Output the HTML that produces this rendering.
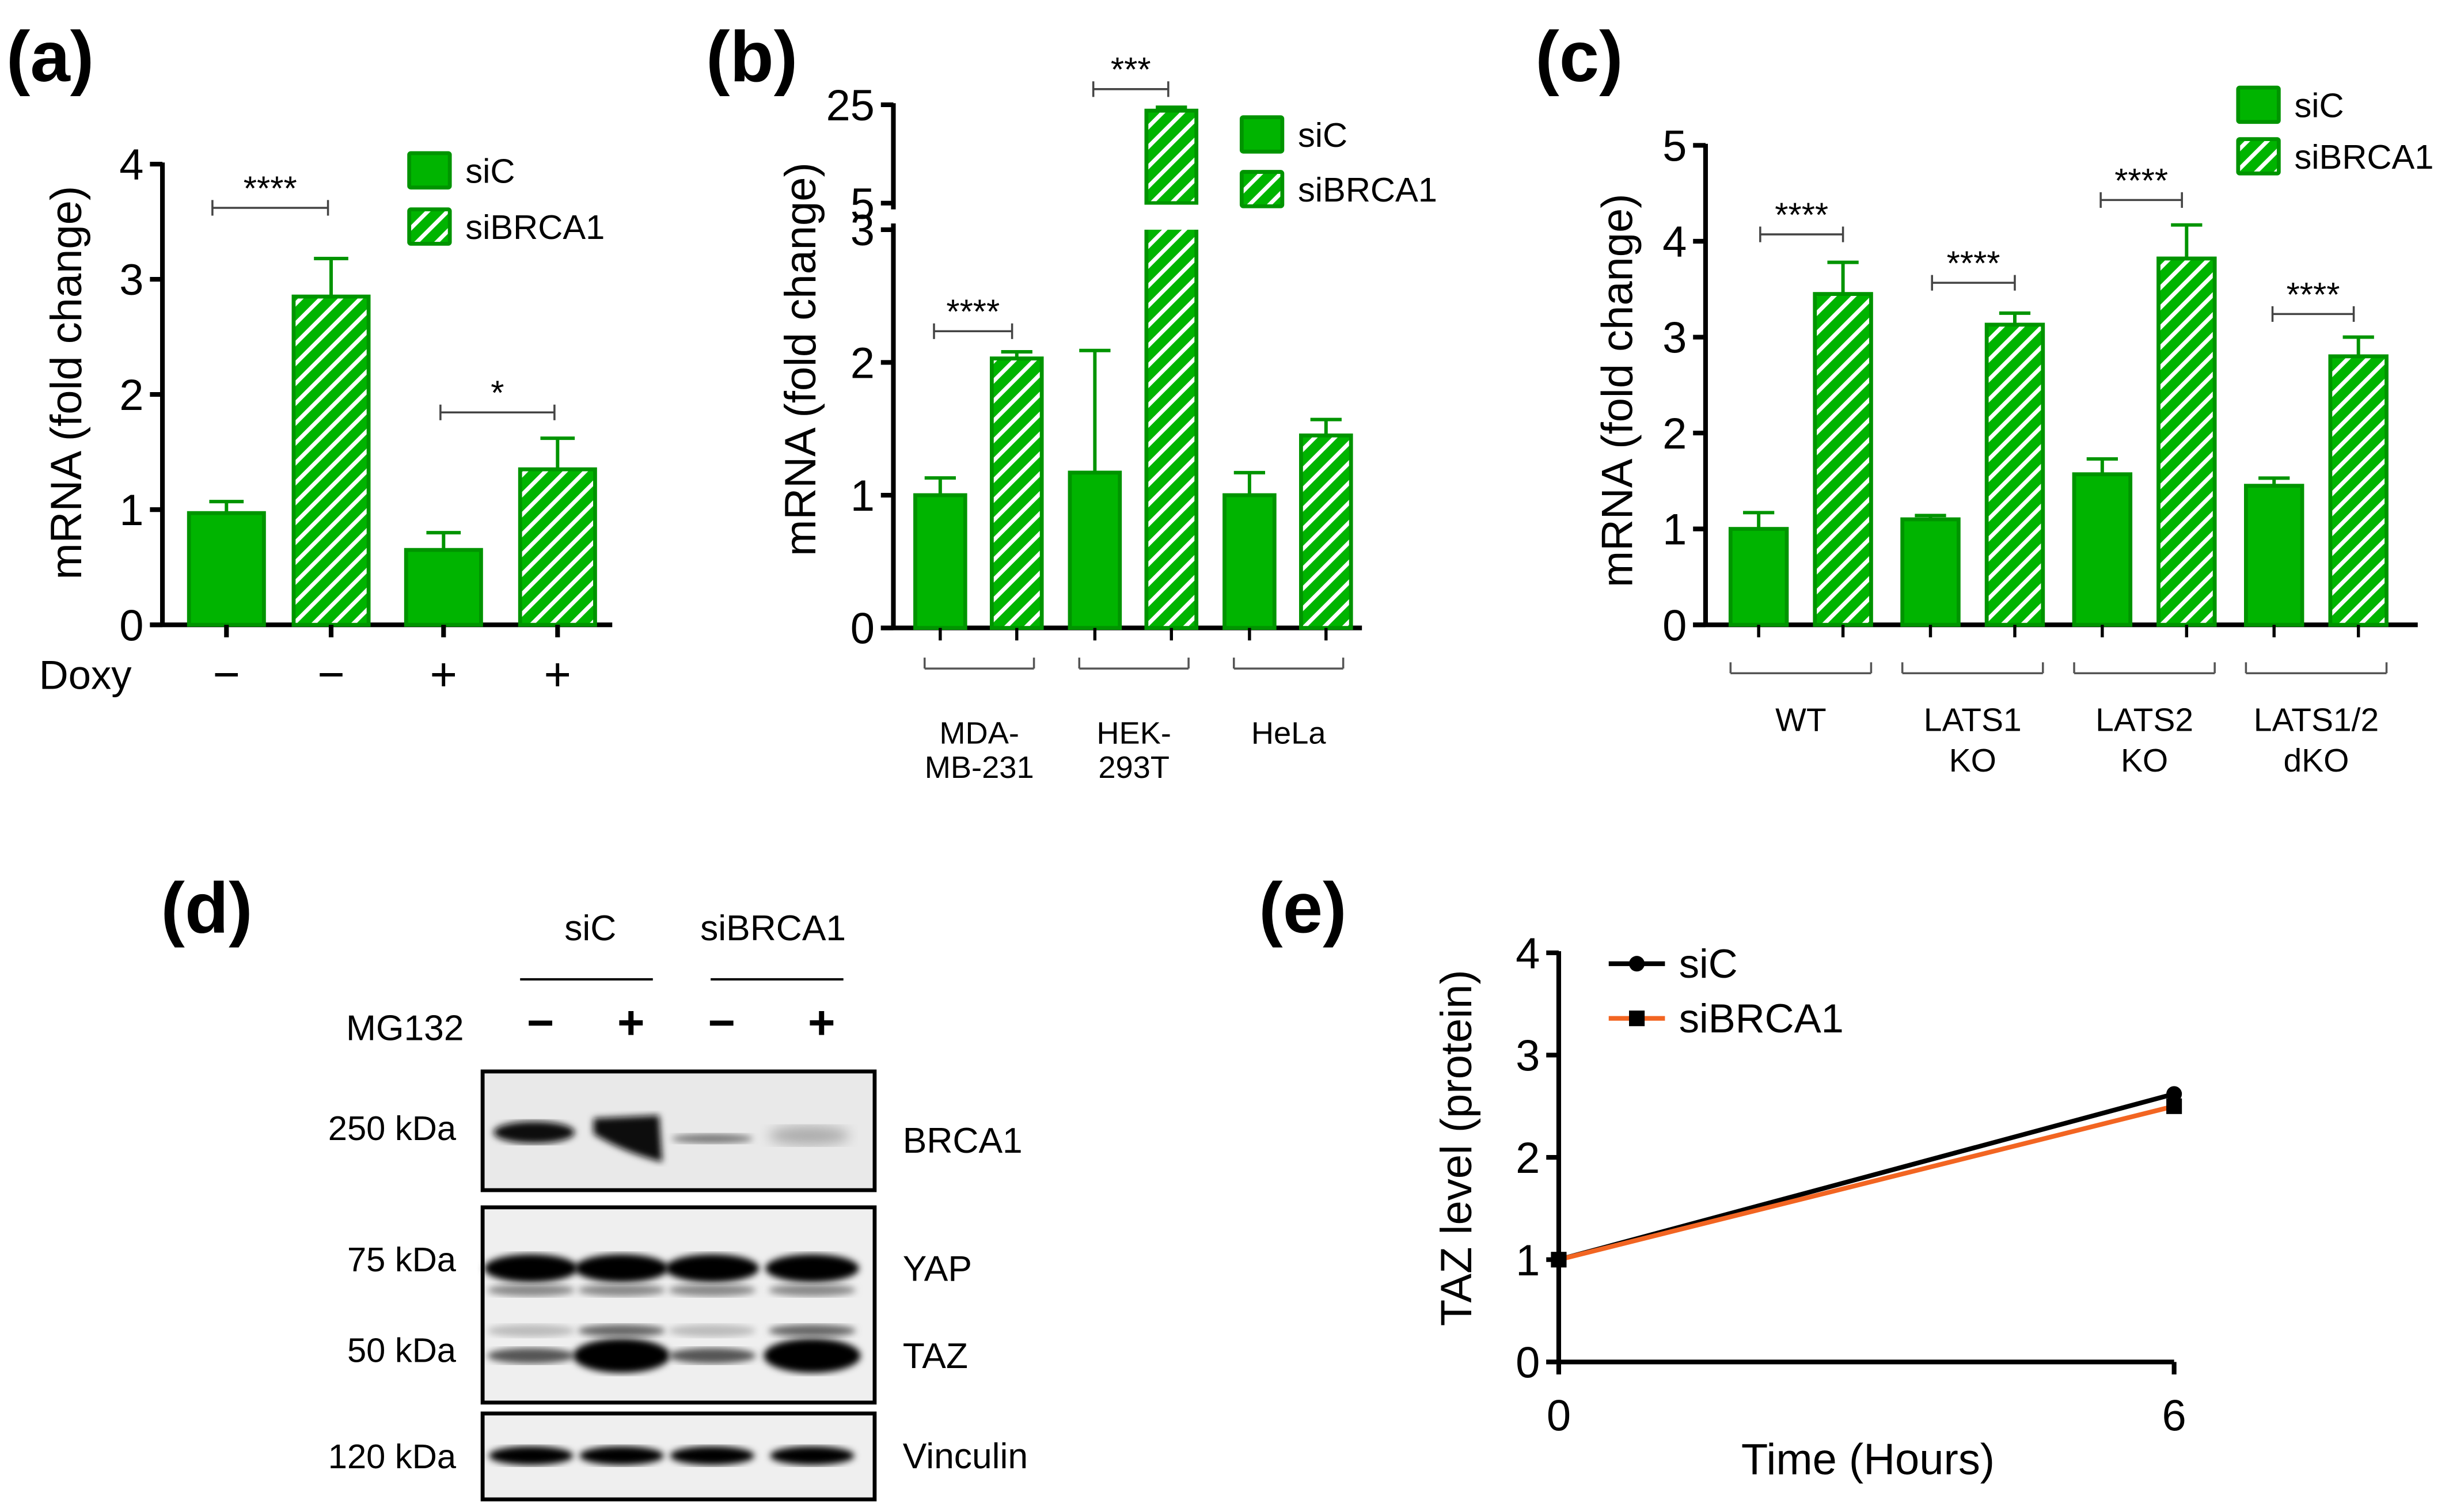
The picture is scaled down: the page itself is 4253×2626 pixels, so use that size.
<!DOCTYPE html>
<html><head><meta charset="utf-8"><style>
html,body{margin:0;padding:0;background:#fff}
svg{display:block}
text{font-family:"Liberation Sans",Arial,sans-serif;fill:#000}
</style></head><body>
<svg id="fig" width="4253" height="2626" viewBox="0 0 1568 968" xmlns="http://www.w3.org/2000/svg">
<defs>
<pattern id="hatch" patternUnits="userSpaceOnUse" width="9" height="9" patternTransform="rotate(45)">
<rect width="9" height="9" fill="#00b400"/><rect x="0" y="0" width="2.6" height="9" fill="#fff"/>
</pattern>
<filter id="blur2"><feGaussianBlur stdDeviation="2.2"/></filter>
<filter id="blur4"><feGaussianBlur stdDeviation="4"/></filter>
</defs>
<g id="root"></g>
</svg>
<script>
// ---- Panel (a) data ----
const aCats = ["−","−","+","+"];
const aSiC = [0.97, 0.65];
const aSiCErr = [1.07, 0.80];
const aBR = [2.85, 1.35];
const aBRErr = [3.18, 1.62];
const aTicks = [0,1,2,3,4];
// ---- Panel (b) data ----
const bCats = ["MDA-|MB-231","HEK-|293T","HeLa"];
const bSiC = [1.0, 1.17, 1.0];
const bSiCErr = [1.13, 2.09, 1.17];
const bBR = [2.03, 23.8, 1.45];
const bBRErr = [2.08, 24.5, 1.57];
const bTicksLow = [0,1,2,3];
const bTicksHigh = [5,25];
// ---- Panel (c) data ----
const cCats = ["WT","LATS1|KO","LATS2|KO","LATS1/2|dKO"];
const cSiC = [1.0, 1.1, 1.57, 1.45];
const cSiCErr = [1.17, 1.14, 1.73, 1.53];
const cBR = [3.45, 3.13, 3.82, 2.8];
const cBRErr = [3.78, 3.25, 4.17, 3.0];
const cTicks = [0,1,2,3,4,5];
// ---- Panel (e) data ----
const eTimes = [0, 6];
const eSiC = [1.0, 2.62];
const eBR = [1.0, 2.5];
const eTicks = [0,1,2,3,4];

const NS="http://www.w3.org/2000/svg";
const root=document.getElementById('root');
function el(tag,attrs,parent,txt){const e=document.createElementNS(NS,tag);for(const k in attrs)e.setAttribute(k,attrs[k]);if(txt!==undefined)e.textContent=txt;(parent||root).appendChild(e);return e;}
function grp(name){const g=document.createElementNS(NS,'g');


root.appendChild(g);return g;}
const GREEN="#00b400", GSTROKE="#009400";

function bar(g,cx,w,y0,y,hatched,name){
  const r=el('rect',{x:cx-w/2,y:Math.min(y,y0),width:w,height:Math.abs(y0-y),fill:hatched?'url(#hatch)':GREEN,stroke:GSTROKE,'stroke-width':2.5},g);
  
  
}
function err(g,cx,ytop,yerr,cap){
  el('line',{x1:cx,x2:cx,y1:ytop,y2:yerr,stroke:GSTROKE,'stroke-width':2.2},g);
  el('line',{x1:cx-cap,x2:cx+cap,y1:yerr,y2:yerr,stroke:GSTROKE,'stroke-width':2.2},g);
}
function sig(g,x1,x2,y,stars){
  el('line',{x1:x1,x2:x2,y1:y,y2:y,stroke:'#444','stroke-width':1.3},g);
  el('line',{x1:x1,x2:x1,y1:y-5,y2:y+5,stroke:'#444','stroke-width':1.3},g);
  el('line',{x1:x2,x2:x2,y1:y-5,y2:y+5,stroke:'#444','stroke-width':1.3},g);
  el('text',{x:(x1+x2)/2,y:y-5,'text-anchor':'middle','font-size':22},g,stars);
}
function legend(g,x,y1,y2){
  const s1=el('rect',{x:x,y:y1-11,width:26,height:22,fill:GREEN,stroke:GSTROKE,'stroke-width':2.5,rx:1},g);
  
  
  el('text',{x:x+36,y:y1+8,'font-size':22},g,'siC');
  const s2=el('rect',{x:x,y:y2-11,width:26,height:22,fill:'url(#hatch)',stroke:GSTROKE,'stroke-width':2.5,rx:1},g);
  
  
  el('text',{x:x+36,y:y2+8,'font-size':22},g,'siBRCA1');
}
function ylabel(g,x,y,t,fs){el('text',{x:x,y:y,'text-anchor':'middle','font-size':fs||28,transform:`rotate(-90 ${x} ${y})`},g,t);}
function panelLabel(x,y,t){const g=grp('panel-label-'+t.replace(/[()]/g,''));el('text',{x:x,y:y,'font-size':46,'font-weight':'bold'},g,t);}

// ===== Panel (a) =====
(function(){
  const g=grp('panel-a-chart');
  const ax=104, y0=400, ppu=73.75;
  const Y=v=>y0-v*ppu;
  const centers=[145,212,284,357];
  el('line',{x1:ax,x2:ax,y1:Y(4)-1,y2:y0+1,stroke:'#000','stroke-width':3},g);
  el('line',{x1:ax-8,x2:392,y1:y0,y2:y0,stroke:'#000','stroke-width':3},g);
  aTicks.forEach(t=>{el('line',{x1:ax-8,x2:ax,y1:Y(t),y2:Y(t),stroke:'#000','stroke-width':3},g);
    el('text',{x:ax-12,y:Y(t)+10,'text-anchor':'end','font-size':28},g,String(t));});
  for(let i=0;i<2;i++){
    const c1=centers[i*2],c2=centers[i*2+1];
    bar(g,c1,48,y0,Y(aSiC[i]),false,'bar-sic-'+i);err(g,c1,Y(aSiC[i]),Y(aSiCErr[i]),11);
    bar(g,c2,48,y0,Y(aBR[i]),true,'bar-sibrca1-'+i);err(g,c2,Y(aBR[i]),Y(aBRErr[i]),11);
  }
  centers.forEach((c,i)=>{el('line',{x1:c,x2:c,y1:y0,y2:y0+8,stroke:'#000','stroke-width':3},g);
    el('text',{x:c,y:442,'text-anchor':'middle','font-size':30},g,aCats[i]);});
  el('text',{x:25,y:441,'font-size':26},g,'Doxy');
  sig(g,136,210,133,'****');
  sig(g,282,355,264,'*');
  legend(g,262,109,145);
  ylabel(g,52,245,'mRNA (fold change)');
})();
panelLabel(4,52,'(a)');

// ===== Panel (b) =====
(function(){
  const g=grp('panel-b-chart');
  const ax=572,y0=402,ppu=85;
  const Y=v=>y0-v*ppu;
  const Yh=v=>130-(v-5)*3.15;
  const Yany=v=>v<=3.2?Y(v):Yh(v);
  el('line',{x1:ax,x2:ax,y1:Y(3)-4,y2:y0+1,stroke:'#000','stroke-width':3},g);
  el('line',{x1:ax,x2:ax,y1:Yh(25)-1,y2:Yh(5)+4,stroke:'#000','stroke-width':3},g);
  el('line',{x1:ax-8,x2:872,y1:y0,y2:y0,stroke:'#000','stroke-width':3},g);
  bTicksLow.forEach(t=>{el('line',{x1:ax-8,x2:ax,y1:Y(t),y2:Y(t),stroke:'#000','stroke-width':3},g);
    el('text',{x:ax-12,y:Y(t)+10,'text-anchor':'end','font-size':28},g,String(t));});
  bTicksHigh.forEach(t=>{el('line',{x1:ax-8,x2:ax,y1:Yh(t),y2:Yh(t),stroke:'#000','stroke-width':3},g);
    el('text',{x:ax-12,y:Yh(t)+10,'text-anchor':'end','font-size':28},g,String(t));});
  const gc=[627,726,825];
  bCats.forEach((cat,i)=>{
    const c1=gc[i]-25,c2=gc[i]+24;
    bar(g,c1,32,y0,Y(bSiC[i]),false,'bar-sic-'+i);err(g,c1,Y(bSiC[i]),Y(bSiCErr[i]),10);
    if(bBR[i]>3.2){
      bar(g,c2,32,y0,Y(3.05),true,'bar-sibrca1-'+i+'-low');
      bar(g,c2,32,130,Yh(bBR[i]),true,'bar-sibrca1-'+i+'-high');
      el('rect',{x:c2-20,y:131,width:40,height:16,fill:'#fff'},g);
    } else bar(g,c2,32,y0,Y(bBR[i]),true,'bar-sibrca1-'+i);
    err(g,c2,Yany(bBR[i]),Yany(bBRErr[i]),10);
    const x1=gc[i]-35,x2=gc[i]+35;
    el('line',{x1:x1,x2:x2,y1:428,y2:428,stroke:'#555','stroke-width':1.3},g);
    el('line',{x1:x1,x2:x1,y1:421,y2:428,stroke:'#555','stroke-width':1.3},g);
    el('line',{x1:x2,x2:x2,y1:421,y2:428,stroke:'#555','stroke-width':1.3},g);
    el('line',{x1:c1,x2:c1,y1:y0,y2:y0+8,stroke:'#000','stroke-width':2},g);
    el('line',{x1:c2,x2:c2,y1:y0,y2:y0+8,stroke:'#000','stroke-width':2},g);
    cat.split('|').forEach((ln,j)=>el('text',{x:gc[i],y:476+j*22,'text-anchor':'middle','font-size':20},g,ln));
  });
  sig(g,598,648,212,'****');
  sig(g,700,748,57,'***');
  legend(g,795,86,121);
  ylabel(g,522,230,'mRNA (fold change)');
})();
panelLabel(452,52,'(b)');

// ===== Panel (c) =====
(function(){
  const g=grp('panel-c-chart');
  const ax=1092,y0=400,ppu=61.4;
  const Y=v=>y0-v*ppu;
  el('line',{x1:ax,x2:ax,y1:Y(5)-1,y2:y0+1,stroke:'#000','stroke-width':3},g);
  el('line',{x1:ax-8,x2:1548,y1:y0,y2:y0,stroke:'#000','stroke-width':3},g);
  cTicks.forEach(t=>{el('line',{x1:ax-8,x2:ax,y1:Y(t),y2:Y(t),stroke:'#000','stroke-width':3},g);
    el('text',{x:ax-12,y:Y(t)+10,'text-anchor':'end','font-size':28},g,String(t));});
  const gc=[1153,1263,1373,1483];
  cCats.forEach((cat,i)=>{
    const c1=gc[i]-27,c2=gc[i]+27;
    bar(g,c1,36,y0,Y(cSiC[i]),false,'bar-sic-'+i);err(g,c1,Y(cSiC[i]),Y(cSiCErr[i]),10);
    bar(g,c2,36,y0,Y(cBR[i]),true,'bar-sibrca1-'+i);err(g,c2,Y(cBR[i]),Y(cBRErr[i]),10);
    const x1=gc[i]-45,x2=gc[i]+45;
    el('line',{x1:x1,x2:x2,y1:431,y2:431,stroke:'#555','stroke-width':1.3},g);
    el('line',{x1:x1,x2:x1,y1:424,y2:431,stroke:'#555','stroke-width':1.3},g);
    el('line',{x1:x2,x2:x2,y1:424,y2:431,stroke:'#555','stroke-width':1.3},g);
    el('line',{x1:c1,x2:c1,y1:y0,y2:y0+8,stroke:'#000','stroke-width':2},g);
    el('line',{x1:c2,x2:c2,y1:y0,y2:y0+8,stroke:'#000','stroke-width':2},g);
    cat.split('|').forEach((ln,j)=>el('text',{x:gc[i],y:468+j*26,'text-anchor':'middle','font-size':21},g,ln));
  });
  sig(g,1127,1180,150,'****');
  sig(g,1237,1290,181,'****');
  sig(g,1345,1397,128,'****');
  sig(g,1455,1507,201,'****');
  legend(g,1433,67,100);
  ylabel(g,1045,250,'mRNA (fold change)');
})();
panelLabel(983,52,'(c)');

// ===== Panel (d) western blot =====
(function(){
  const g=grp('panel-d-blot');
  el('text',{x:378,y:602,'text-anchor':'middle','font-size':23},g,'siC');
  el('text',{x:495,y:602,'text-anchor':'middle','font-size':23},g,'siBRCA1');
  el('line',{x1:333,x2:418,y1:627,y2:627,stroke:'#000','stroke-width':1.5},g);
  el('line',{x1:455,x2:540,y1:627,y2:627,stroke:'#000','stroke-width':1.5},g);
  el('text',{x:297,y:666,'text-anchor':'end','font-size':23},g,'MG132');
  const lanes=[346,404,462,526];
  ['−','+','−','+'].forEach((s,i)=>el('text',{x:lanes[i],y:665,'text-anchor':'middle','font-size':30,'font-weight':'bold'},g,s));
  el('rect',{x:309,y:686,width:251,height:76,fill:'#e9e9e9'},g);
  el('ellipse',{cx:342,cy:725,rx:26,ry:7,fill:'#111',filter:'url(#blur2)'},g);
  el('path',{d:'M380 716 L422 714 L424 744 Q400 738 380 726 Z',fill:'#111',filter:'url(#blur2)'},g);
  el('ellipse',{cx:456,cy:729,rx:26,ry:3,fill:'#777',filter:'url(#blur2)'},g);
  el('ellipse',{cx:518,cy:727,rx:26,ry:6,fill:'#aaa',filter:'url(#blur4)'},g);
  el('rect',{x:309,y:686,width:251,height:76,fill:'none',stroke:'#000','stroke-width':2.5},g);
  el('rect',{x:309,y:773,width:251,height:125,fill:'#efefef'},g);
  lanes.forEach((c,i)=>{
    el('ellipse',{cx:c-6,cy:812,rx:30,ry:9,fill:'#000',filter:'url(#blur2)'},g);
    el('ellipse',{cx:c-6,cy:826,rx:28,ry:4,fill:'#888',filter:'url(#blur2)'},g);
    const strong=(i%2===1);
    el('ellipse',{cx:c-6,cy:868,rx:strong?31:28,ry:strong?11:5,fill:strong?'#000':'#555',filter:'url(#blur2)'},g);
    el('ellipse',{cx:c-6,cy:852,rx:28,ry:4,fill:strong?'#666':'#bbb',filter:'url(#blur2)'},g);
  });
  el('rect',{x:309,y:773,width:251,height:125,fill:'none',stroke:'#000','stroke-width':2.5},g);
  el('rect',{x:309,y:905,width:251,height:55,fill:'#efefef'},g);
  lanes.forEach(c=>el('ellipse',{cx:c-6,cy:932,rx:27,ry:6,fill:'#000',filter:'url(#blur2)'},g));
  el('rect',{x:309,y:905,width:251,height:55,fill:'none',stroke:'#000','stroke-width':2.5},g);
  [['250 kDa',730],['75 kDa',814],['50 kDa',872],['120 kDa',940]].forEach(([t,y])=>el('text',{x:292,y:y,'text-anchor':'end','font-size':22},g,t));
  [['BRCA1',738],['YAP',820],['TAZ',876],['Vinculin',940]].forEach(([t,y])=>el('text',{x:578,y:y,'font-size':23},g,t));
})();
panelLabel(103,597,'(d)');

// ===== Panel (e) line chart =====
(function(){
  const g=grp('panel-e-chart');
  const ax=998,y0=872,ppu=65.5,xmax=1392;
  const Y=v=>y0-v*ppu, X=t=>ax+t*(xmax-ax)/6;
  el('line',{x1:ax,x2:ax,y1:Y(4)-1,y2:y0+1,stroke:'#000','stroke-width':3},g);
  el('line',{x1:ax-8,x2:xmax,y1:y0,y2:y0,stroke:'#000','stroke-width':3},g);
  eTicks.forEach(t=>{el('line',{x1:ax-8,x2:ax,y1:Y(t),y2:Y(t),stroke:'#000','stroke-width':3},g);
    el('text',{x:ax-12,y:Y(t)+10,'text-anchor':'end','font-size':28},g,String(t));});
  eTimes.forEach(t=>{el('line',{x1:X(t),x2:X(t),y1:y0,y2:y0+8,stroke:'#000','stroke-width':3},g);
    el('text',{x:X(t),y:916,'text-anchor':'middle','font-size':28},g,String(t));});
  el('text',{x:1196,y:944,'text-anchor':'middle','font-size':28},g,'Time (Hours)');
  ylabel(g,942,735,'TAZ level (protein)',28);
  const l1=el('polyline',{points:eTimes.map((t,i)=>X(t)+','+Y(eSiC[i])).join(' '),fill:'none',stroke:'#000','stroke-width':3},g);
  
  
  const l2=el('polyline',{points:eTimes.map((t,i)=>X(t)+','+Y(eBR[i])).join(' '),fill:'none',stroke:'#f26522','stroke-width':3},g);
  
  
  eTimes.forEach((t,i)=>{
    el('circle',{cx:X(t),cy:Y(eSiC[i]),r:5,fill:'#000'},g);
    el('rect',{x:X(t)-5,y:Y(eBR[i])-5,width:10,height:10,fill:'#000'},g);
  });
  el('line',{x1:1030,x2:1066,y1:617,y2:617,stroke:'#000','stroke-width':3},g);
  el('circle',{cx:1048,cy:617,r:5,fill:'#000'},g);
  el('text',{x:1075,y:626,'font-size':26},g,'siC');
  el('line',{x1:1030,x2:1066,y1:652,y2:652,stroke:'#f26522','stroke-width':3},g);
  el('rect',{x:1043,y:647,width:10,height:10,fill:'#000'},g);
  el('text',{x:1075,y:661,'font-size':26},g,'siBRCA1');
})();
panelLabel(806,597,'(e)');
</script>
</body></html>
